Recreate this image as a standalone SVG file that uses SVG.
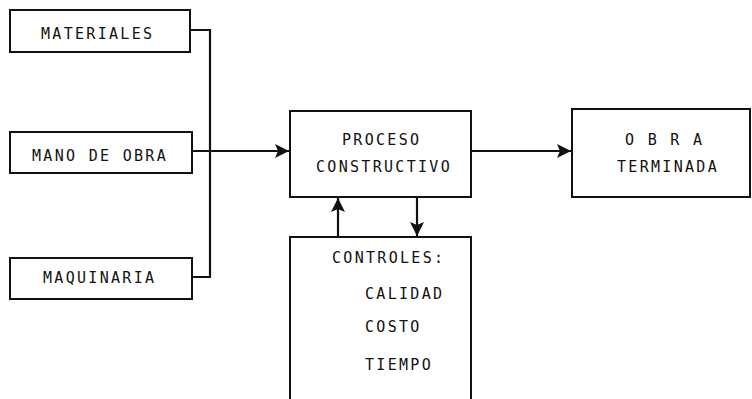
<svg xmlns="http://www.w3.org/2000/svg" width="752" height="399" viewBox="0 0 752 399">
<style>
.box{fill:#fff;stroke:#111;stroke-width:2}
.t{font-family:"DejaVu Sans Mono","Liberation Mono",monospace;font-size:15px;letter-spacing:2.3px;fill:#111}
.ln{fill:none;stroke:#111;stroke-width:2.2}
</style>
<defs>
<marker id="ah" viewBox="0 0 14 14" refX="14" refY="7" markerWidth="14" markerHeight="14" markerUnits="userSpaceOnUse" orient="auto">
<path d="M0,0 L14,7 L0,14 L3,7 Z" fill="#111"/>
</marker>
</defs>
<rect width="752" height="399" fill="#fff"/>
<g id="connectors">
<path class="ln" d="M190,30 H210 V277 H192"/>
<path class="ln" d="M192,151 H289" marker-end="url(#ah)"/>
<path class="ln" d="M471,151 H571" marker-end="url(#ah)"/>
<path class="ln" d="M338,237 V198" marker-end="url(#ah)"/>
<path class="ln" d="M417,197 V236" marker-end="url(#ah)"/>
</g>
<g id="materiales">
<rect class="box" x="10" y="10" width="180" height="42"/>
<text class="t" x="41" y="39">MATERIALES</text>
</g>
<g id="mano-de-obra">
<rect class="box" x="10" y="132" width="182" height="41"/>
<text class="t" x="32" y="161">MANO DE OBRA</text>
</g>
<g id="maquinaria">
<rect class="box" x="10" y="258" width="182" height="41"/>
<text class="t" x="43" y="283">MAQUINARIA</text>
</g>
<g id="proceso">
<rect class="box" x="290" y="111" width="181" height="86"/>
<text class="t" x="342" y="145">PROCESO</text>
<text class="t" x="316" y="172">CONSTRUCTIVO</text>
</g>
<g id="obra-terminada">
<rect class="box" x="572" y="109" width="178" height="88"/>
<text class="t" x="625" y="145" letter-spacing="0">O B R A</text>
<text class="t" x="617" y="172">TERMINADA</text>
</g>
<g id="controles">
<rect class="box" x="290" y="237" width="181" height="180"/>
<text class="t" x="332" y="263">CONTROLES:</text>
<text class="t" x="365" y="299">CALIDAD</text>
<text class="t" x="365" y="332">COSTO</text>
<text class="t" x="365" y="370">TIEMPO</text>
</g>
</svg>
